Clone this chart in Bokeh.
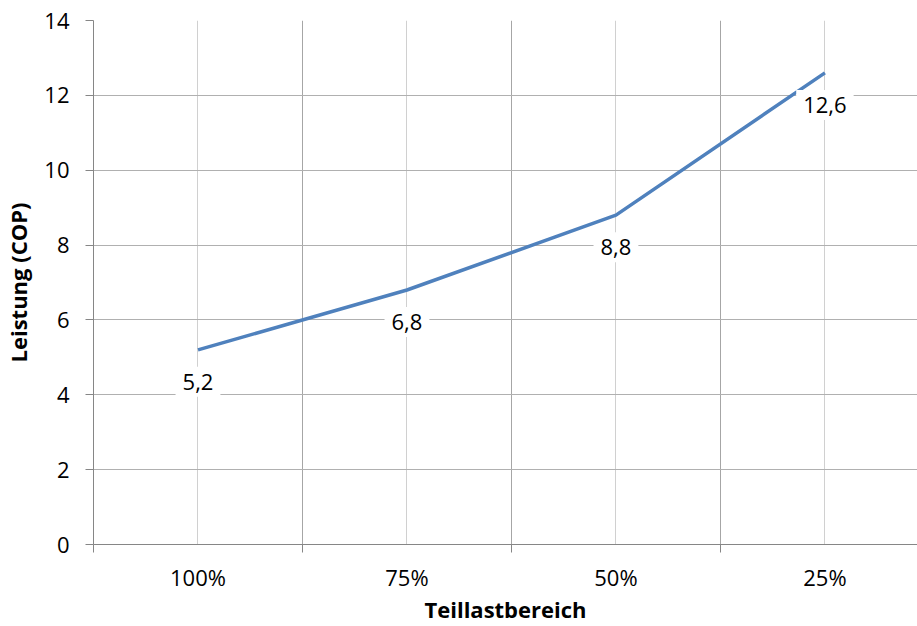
from bokeh.plotting import figure
from bokeh.models import Range1d, FixedTicker, Label
from bokeh.embed import file_html
from bokeh.resources import INLINE

categories = ["100%", "75%", "50%", "25%"]
cop = [5.2, 6.8, 8.8, 12.6]
y_ticks = [0, 2, 4, 6, 8, 10, 12, 14]
x_title = "Teillastbereich"
y_title = "Leistung (COP)"

FONT = "Open Sans"
xs = list(range(1, len(categories) + 1))
bounds = [x - 0.5 for x in xs] + [xs[-1] + 0.5]

p = figure(width=917, height=626, output_backend="svg", toolbar_location=None,
           x_range=Range1d(0.5, 4.443), y_range=Range1d(0, 14))
p.min_border_left = 91
p.min_border_right = 0
p.min_border_top = 20
p.min_border_bottom = 82
p.outline_line_color = None
p.background_fill_color = "white"
p.border_fill_color = "white"

xt = FixedTicker(ticks=xs, minor_ticks=bounds)
p.xaxis.ticker = xt
p.xgrid.ticker = xt
p.xaxis.major_label_overrides = {x: c for x, c in zip(xs, categories)}
p.xaxis.major_tick_out = 0
p.xaxis.major_tick_in = 0
p.xaxis.minor_tick_out = 8
p.xaxis.minor_tick_in = 0
p.xaxis.minor_tick_line_color = "#868686"
p.xaxis.axis_line_color = "#868686"
p.xaxis.major_label_standoff = 9
p.xaxis.major_label_text_font = FONT
p.xaxis.major_label_text_font_size = "22px"
p.xaxis.major_label_text_color = "black"
p.xaxis.axis_label = x_title
p.xaxis.axis_label_standoff = -1
p.xaxis.axis_label_text_font = FONT
p.xaxis.axis_label_text_font_size = "22px"
p.xaxis.axis_label_text_font_style = "bold"
p.xaxis.axis_label_text_color = "black"
p.xgrid.grid_line_color = "#d0d0d0"
p.xgrid.minor_grid_line_color = "#a6a6a6"

yt = FixedTicker(ticks=y_ticks, minor_ticks=[])
p.yaxis.ticker = yt
p.ygrid.ticker = yt
p.yaxis.major_tick_out = 8
p.yaxis.major_tick_in = 0
p.yaxis.minor_tick_out = 0
p.yaxis.minor_tick_in = 0
p.yaxis.major_tick_line_color = "#868686"
p.yaxis.axis_line_color = "#868686"
p.yaxis.major_label_standoff = 16
p.yaxis.major_label_text_font = FONT
p.yaxis.major_label_text_font_size = "22px"
p.yaxis.major_label_text_color = "black"
p.yaxis.axis_label = y_title
p.yaxis.axis_label_standoff = 8
p.yaxis.axis_label_text_font = FONT
p.yaxis.axis_label_text_font_size = "22px"
p.yaxis.axis_label_text_font_style = "bold"
p.yaxis.axis_label_text_color = "black"
p.ygrid.grid_line_color = "#b0b0b0"

p.line(xs, cop, line_color="#4F81BD", line_width=3.5)

for x, v in zip(xs, cop):
    p.add_layout(Label(x=x, y=v, y_offset=-32, text=f"{v:.1f}".replace(".", ","),
                       text_align="center", text_baseline="middle",
                       text_font=FONT, text_font_size="22px", text_color="black",
                       background_fill_color="white", padding=7))

open("out.html", "w").write(file_html(p, INLINE))
